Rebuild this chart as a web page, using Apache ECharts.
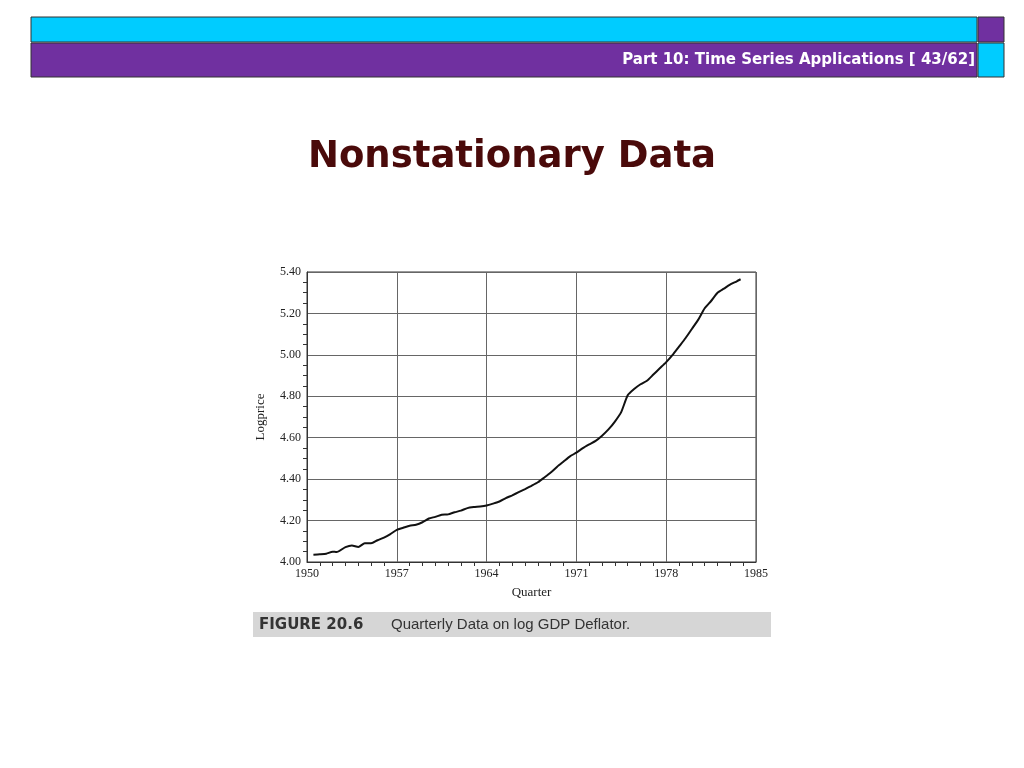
<!DOCTYPE html>
<html><head><meta charset="utf-8">
<script src="https://cdn.jsdelivr.net/npm/echarts@6/dist/echarts.min.js"></script>
<style>html,body{margin:0;padding:0;background:#fff}#c{width:1024px;height:768px}</style>
</head><body><div id="c"></div>
<script>
const quarters = [1950.5,1951,1951.5,1952,1952.3,1953,1953.5,1954,1954.5,1955,1955.5,1956,1956.5,1957,1957.5,1958,1958.5,1959,1959.5,1960,1960.5,1961,1961.5,1962,1962.5,1963,1963.5,1964,1964.5,1965,1965.5,1966,1966.5,1967,1967.5,1968,1968.5,1969,1969.5,1970,1970.5,1971,1971.5,1972,1972.5,1973,1973.5,1974,1974.5,1975,1975.5,1976,1976.5,1977,1977.5,1978,1978.5,1979,1979.5,1980,1980.5,1981,1981.5,1982,1982.5,1983,1983.5,1983.8];
const logprice = [4.035,4.037,4.040,4.050,4.048,4.072,4.080,4.073,4.090,4.090,4.105,4.118,4.135,4.155,4.165,4.175,4.180,4.192,4.210,4.218,4.228,4.230,4.240,4.248,4.260,4.265,4.268,4.273,4.282,4.292,4.308,4.322,4.337,4.352,4.368,4.385,4.408,4.432,4.460,4.485,4.510,4.528,4.550,4.568,4.585,4.610,4.640,4.678,4.725,4.805,4.835,4.858,4.875,4.905,4.935,4.965,5.000,5.040,5.080,5.125,5.170,5.225,5.260,5.300,5.320,5.340,5.355,5.365];
const headerText = "Part 10: Time Series Applications [ 43/62]";
const titleText = "Nonstationary Data";
const captionBold = "FIGURE 20.6";
const captionText = "Quarterly Data on log GDP Deflator.";

const chart = echarts.init(document.getElementById('c'));
const serif = "Liberation Serif";
chart.setOption({
  animation:false,
  grid:{left:307,right:268,top:272,bottom:206,show:true,borderColor:'#333',borderWidth:1},
  xAxis:{type:'value',min:1950,max:1985,interval:7,
    name:'Quarter',nameLocation:'middle',nameGap:24,nameTextStyle:{fontFamily:serif,fontSize:13,color:'#222'},
    axisLine:{lineStyle:{color:'#333'}},axisTick:{show:false},
    minorTick:{show:true,splitNumber:7,length:4,lineStyle:{color:'#333'}},
    axisLabel:{fontFamily:serif,fontSize:12,color:'#222',margin:6,formatter:v=>String(v)},
    splitLine:{show:true,lineStyle:{color:'#666',width:1}}},
  yAxis:{type:'value',min:4.0,max:5.4,interval:0.2,
    name:'Logprice',nameLocation:'middle',nameGap:40,nameTextStyle:{fontFamily:serif,fontSize:13,color:'#222'},
    axisLine:{lineStyle:{color:'#333'}},axisTick:{show:false},
    minorTick:{show:true,splitNumber:4,length:4,lineStyle:{color:'#333'}},
    axisLabel:{fontFamily:serif,fontSize:12,color:'#222',margin:6,formatter:v=>v.toFixed(2)},
    splitLine:{show:true,lineStyle:{color:'#666',width:1}}},
  series:[{type:'line',showSymbol:false,smooth:0.2,lineStyle:{color:'#111',width:2},
    data:quarters.map((q,i)=>[q,logprice[i]])}],
  graphic:[
    {type:'rect',shape:{x:31,y:17,width:946,height:25},style:{fill:'#00ccff',stroke:'#333',lineWidth:1}},
    {type:'rect',shape:{x:978,y:17,width:26,height:25},style:{fill:'#7030a0',stroke:'#333',lineWidth:1}},
    {type:'rect',shape:{x:31,y:43,width:946,height:34},style:{fill:'#7030a0',stroke:'#333',lineWidth:1}},
    {type:'rect',shape:{x:978,y:43,width:26,height:34},style:{fill:'#00ccff',stroke:'#333',lineWidth:1}},
    {type:'text',x:975,y:60,style:{text:headerText,fill:'#fff',font:'bold 15px "DejaVu Sans"',textAlign:'right',textVerticalAlign:'middle'}},
    {type:'text',x:512,y:157,style:{text:titleText,fill:'#4a0a0a',font:'bold 37px "DejaVu Sans"',textAlign:'center',textVerticalAlign:'middle'}},
    {type:'rect',shape:{x:253,y:612,width:518,height:25},style:{fill:'#d6d6d6'}},
    {type:'text',x:259,y:625,style:{text:captionBold,fill:'#333',font:'bold 15px "DejaVu Sans"',textVerticalAlign:'middle'}},
    {type:'text',x:391,y:625,style:{text:captionText,fill:'#333',font:'15px "Liberation Sans"',textVerticalAlign:'middle'}}
  ]
});
</script></body></html>
